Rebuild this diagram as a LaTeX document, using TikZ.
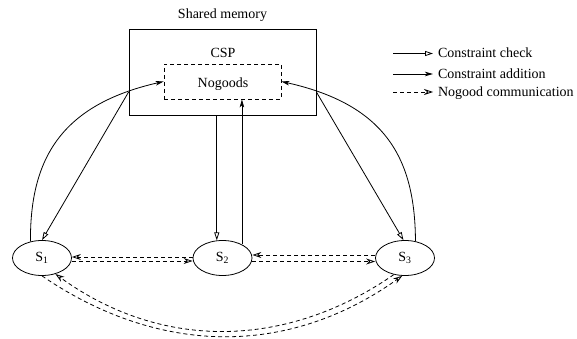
\documentclass[tikz,border=0pt]{standalone}
\usepackage{fontspec}
\setmainfont{Liberation Serif}
\usetikzlibrary{arrows.meta,shapes.geometric}

\begin{document}
\begin{tikzpicture}[x=1pt, y=-1pt, line width=0.8pt,
  font=\fontsize{14}{16}\selectfont,
  agent/.style={ellipse, draw, minimum width=59pt, minimum height=35pt, inner sep=0pt},
  dashline/.style={dash pattern=on 4pt off 3pt},
  checkarrow/.style={-{Triangle[open, length=8pt, width=5pt]}},
  addarrow/.style={-{Stealth[length=8pt, width=4.5pt, inset=2pt]}},
  goodarrow/.style={dashline, -{Stealth[open, length=9pt, width=6pt, inset=3pt]}},
  legendtext/.style={anchor=west, inner sep=0pt, outer xsep=5pt, text height=9.5pt, text depth=3pt}
]
\useasboundingbox (0,0) rectangle (577,339);

% shared memory holding the CSP and the nogood store
\node (mem) at (222.5,15) {Shared memory};
\node[draw, minimum width=187pt, minimum height=86pt, inner sep=0pt] (csp) at (222.5,72) {};
\node (csplbl) at (223,52.5) {CSP};
\node[draw, dashline, minimum width=117pt, minimum height=35pt, inner sep=0pt] (ng) at (222.5,81.5) {};
\node (nglbl) at (223,84) {Nogoods};

% solver agents
\node[agent] (s1) at (42,258) {S\textsubscript{1}};
\node[agent] (s2) at (222.5,258) {S\textsubscript{2}};
\node[agent] (s3) at (405,258) {S\textsubscript{3}};

% S1 <-> shared memory
\draw[addarrow] (s1.125) .. controls (30,160) and (60,105) .. (ng.west);
\draw[checkarrow] ([yshift=-20pt]csp.west) -- (s1.north);

% S3 <-> shared memory
\draw[addarrow] (s3.58) .. controls (415,160) and (387,105) .. (ng.east);
\draw[checkarrow] ([yshift=-20pt]csp.east) -- (s3.95);

% S2 <-> shared memory
\draw[checkarrow] (s2.108 |- csp.south) -- (s2.108);
\draw[addarrow] (s2.35) -- (s2.35 |- ng.south);

% nogood exchange between the agents
\draw[goodarrow] ([yshift=1pt]s2.west) -- ([yshift=1pt]s1.east);
\draw[goodarrow] ([yshift=-3pt]s1.east) -- ([yshift=-3pt]s2.west);
\draw[goodarrow] ([yshift=3pt]s3.west) -- ([yshift=3pt]s2.east);
\draw[goodarrow] ([yshift=-3.5pt]s2.east) -- ([yshift=-3.5pt]s3.west);
\draw[goodarrow] (s1.south) .. controls (158,355) and (287,358) .. (s3.-99);
\draw[goodarrow] (s3.-124) .. controls (288,348) and (163,352) .. (s1.-50);

% legend
\coordinate (lg1) at (393,53.5);
\coordinate (lg2) at (393,74);
\coordinate (lg3) at (393,92);
\node[legendtext] (t1) at (433,54.5) {Constraint check};
\node[legendtext] (t2) at (433,75) {Constraint addition};
\node[legendtext] (t3) at (433,93) {Nogood communication};
\draw[checkarrow] (lg1) -- (t1.west |- lg1);
\draw[addarrow] (lg2) -- (t2.west |- lg2);
\draw[goodarrow] (lg3) -- (t3.west |- lg3);
\end{tikzpicture}
\end{document}
